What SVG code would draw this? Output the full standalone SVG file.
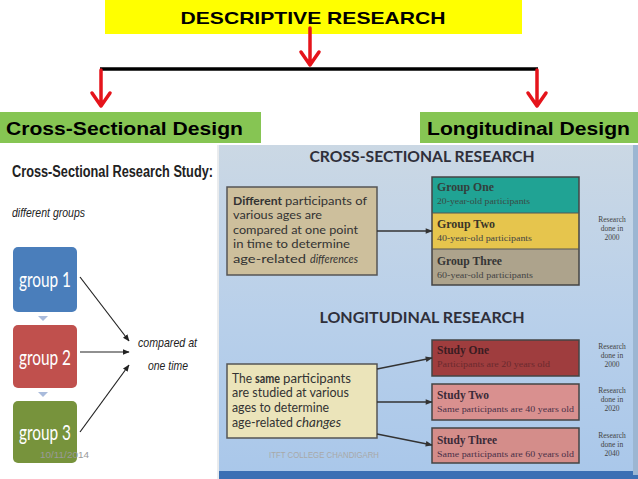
<svg xmlns="http://www.w3.org/2000/svg" width="638" height="479" viewBox="0 0 638 479">
<defs>
<linearGradient id="bg" x1="0" y1="0" x2="0" y2="1">
<stop offset="0" stop-color="#cbd8e4"/>
<stop offset="0.5" stop-color="#b9d0ea"/>
<stop offset="1" stop-color="#a9c7ea"/>
</linearGradient>
<marker id="ah" viewBox="0 0 10 10" refX="9" refY="5" markerWidth="7" markerHeight="7" orient="auto" markerUnits="userSpaceOnUse">
<path d="M0,1 L10,5 L0,9 z" fill="#222"/>
</marker>
<marker id="ah2" viewBox="0 0 10 10" refX="9" refY="5" markerWidth="9" markerHeight="7" orient="auto" markerUnits="userSpaceOnUse">
<path d="M0,1 L10,5 L0,9 z" fill="#333"/>
</marker>
</defs>
<style>
.hd{font-family:"Liberation Sans",Arial,sans-serif;font-weight:bold;fill:#000}
.red{stroke:#e5141b;stroke-width:3.5;fill:none;stroke-linecap:round;stroke-linejoin:round}
.grp{font-family:Lato,"Open Sans",sans-serif;font-size:22px;fill:#fff}
.cap{font-family:"Liberation Sans",Arial,sans-serif;font-style:italic;fill:#222}
.tt{font-family:Lato,"Open Sans",sans-serif;font-weight:bold;fill:#2f2f3a;font-size:16px}
.bx{font-family:Lato,"Open Sans",sans-serif;fill:#333;font-size:12px}
.lg{font-family:Lato,"Open Sans",sans-serif;fill:#333;font-size:12.5px}
.b{font-weight:bold}
.i{font-style:italic}
.nm{font-family:"Liberation Serif","Times New Roman",serif;font-weight:bold;font-size:12.5px}
.sb{font-family:"Liberation Serif","Times New Roman",serif;font-size:9px}
.rd{font-family:"Liberation Serif","Times New Roman",serif;font-size:7.5px;fill:#444;text-anchor:middle}
.thin{stroke:#222;stroke-width:1.2;fill:none}
.dk{stroke:#333;stroke-width:1.3;fill:none}
</style>
<rect width="638" height="479" fill="#fff"/>

<g id="descriptive">
<rect x="105" y="0" width="417" height="34" fill="#ffff00"/>
<text class="hd" x="313" y="24" font-size="17" text-anchor="middle" textLength="265" lengthAdjust="spacingAndGlyphs">DESCRIPTIVE RESEARCH</text>
</g>

<g id="connectors-top">
<line x1="100" y1="69" x2="538" y2="69" stroke="#000" stroke-width="3.5"/>
<path class="red" d="M310,28 V65 M301,52 L310,65 L319,52"/>
<path class="red" d="M101,70 V106 M92,93 L101,106 L110,93"/>
<path class="red" d="M537,70 V106 M528,93 L537,106 L546,93"/>
</g>

<g id="cross-sectional-design">
<rect x="0" y="112" width="261" height="31" fill="#86c553"/>
<text class="hd" x="6" y="135" font-size="18" textLength="237" lengthAdjust="spacingAndGlyphs">Cross-Sectional Design</text>
</g>
<g id="longitudinal-design">
<rect x="420" y="112" width="218" height="31" fill="#86c553"/>
<text class="hd" x="427" y="135" font-size="18" textLength="203" lengthAdjust="spacingAndGlyphs">Longitudinal Design</text>
</g>

<g id="left-panel">
<line x1="218" y1="145" x2="218" y2="479" stroke="#d4d8dc" stroke-width="1"/>
<text x="12" y="177" font-family="'Liberation Sans',Arial,sans-serif" font-weight="bold" font-size="16" fill="#222" textLength="201" lengthAdjust="spacingAndGlyphs">Cross-Sectional Research Study:</text>
<text class="cap" x="12" y="217" font-size="12" textLength="73" lengthAdjust="spacingAndGlyphs">different groups</text>
<g id="group1">
<rect x="13" y="247" width="64" height="65" rx="5" fill="#4a7ebb"/>
<text class="grp" x="19" y="287" textLength="52" lengthAdjust="spacingAndGlyphs">group 1</text>
</g>
<path d="M38,316 h10 l-5,5 z" fill="#a9bbdc"/>
<g id="group2">
<rect x="13" y="325" width="64" height="63" rx="5" fill="#c0504d"/>
<text class="grp" x="19" y="365" textLength="52" lengthAdjust="spacingAndGlyphs">group 2</text>
</g>
<path d="M38,392 h10 l-5,5 z" fill="#a9bbdc"/>
<g id="group3">
<rect x="13" y="401" width="64" height="62" rx="5" fill="#77933c"/>
<text class="grp" x="19" y="440" textLength="52" lengthAdjust="spacingAndGlyphs">group 3</text>
</g>
<g id="compared">
<text class="cap" x="138" y="347" font-size="13" textLength="59" lengthAdjust="spacingAndGlyphs">compared at</text>
<text class="cap" x="148" y="370" font-size="13" textLength="40" lengthAdjust="spacingAndGlyphs">one time</text>
</g>
<text x="40" y="458" font-family="'Liberation Sans',Arial,sans-serif" font-size="9" fill="#9a9a9a" textLength="49" lengthAdjust="spacingAndGlyphs">10/11/2014</text>
</g>

<g id="right-panel">
<rect x="219" y="145" width="419" height="334" fill="url(#bg)"/>
<rect x="219" y="471" width="419" height="8" fill="#3b6fb4"/>
<rect x="633" y="145" width="5" height="330" fill="#9cb6d2"/>
<text class="tt" x="422" y="162" text-anchor="middle" textLength="225" lengthAdjust="spacingAndGlyphs">CROSS-SECTIONAL RESEARCH</text>
<text class="tt" x="422" y="323" text-anchor="middle" textLength="205" lengthAdjust="spacingAndGlyphs">LONGITUDINAL RESEARCH</text>
<text x="269" y="458" font-family="'Liberation Sans',Arial,sans-serif" font-size="9" fill="#a8a8a8" textLength="110" lengthAdjust="spacingAndGlyphs">ITFT COLLEGE CHANDIGARH</text>
</g>

<g id="cs-description">
<rect x="227" y="187" width="150" height="88" fill="#cdbf9c" stroke="#555" stroke-width="1.5"/>
<text class="bx b" x="233" y="205" textLength="49" lengthAdjust="spacingAndGlyphs">Different</text>
<text class="bx" x="285" y="205" textLength="82" lengthAdjust="spacingAndGlyphs">participants of</text>
<text class="bx" x="233" y="219" textLength="89" lengthAdjust="spacingAndGlyphs">various ages are</text>
<text class="bx" x="233" y="234" textLength="125" lengthAdjust="spacingAndGlyphs">compared at one point</text>
<text class="bx" x="233" y="248" textLength="117" lengthAdjust="spacingAndGlyphs">in time to determine</text>
<text class="bx" x="233" y="263" textLength="73" lengthAdjust="spacingAndGlyphs">age-related</text>
<text class="bx i" x="310" y="263" textLength="48" lengthAdjust="spacingAndGlyphs">differences</text>
</g>

<g id="cs-groups">
<rect x="432" y="177" width="147" height="36" fill="#20a394"/>
<rect x="432" y="213" width="147" height="36" fill="#e6c54d"/>
<rect x="432" y="249" width="147" height="36" fill="#ada38c"/>
<rect x="432" y="177" width="147" height="108" fill="none" stroke="#444" stroke-width="1.5"/>
<line x1="432" y1="213" x2="579" y2="213" stroke="#555" stroke-width="1"/>
<line x1="432" y1="249" x2="579" y2="249" stroke="#555" stroke-width="1"/>
<text class="nm" x="437" y="191" fill="#33403c" textLength="57" lengthAdjust="spacingAndGlyphs">Group One</text>
<text class="sb" x="437" y="204" fill="#3a4a45" textLength="93" lengthAdjust="spacingAndGlyphs">20-year-old participants</text>
<text class="nm" x="437" y="228" fill="#3a3528" textLength="58" lengthAdjust="spacingAndGlyphs">Group Two</text>
<text class="sb" x="437" y="241" fill="#444" textLength="95" lengthAdjust="spacingAndGlyphs">40-year-old participants</text>
<text class="nm" x="437" y="265" fill="#353535" textLength="65" lengthAdjust="spacingAndGlyphs">Group Three</text>
<text class="sb" x="437" y="278" fill="#444" textLength="96" lengthAdjust="spacingAndGlyphs">60-year-old participants</text>
<text class="rd" x="612" y="222">Research</text>
<text class="rd" x="612" y="231">done in</text>
<text class="rd" x="612" y="240">2000</text>
</g>

<g id="lg-description">
<rect x="227" y="364" width="150" height="74" fill="#ebe4ba" stroke="#555" stroke-width="1.5"/>
<text class="lg" x="232" y="383" textLength="20" lengthAdjust="spacingAndGlyphs">The</text>
<text class="lg b" x="255" y="383" textLength="25" lengthAdjust="spacingAndGlyphs">same</text>
<text class="lg" x="283" y="383" textLength="68" lengthAdjust="spacingAndGlyphs">participants</text>
<text class="lg" x="232" y="397" textLength="117" lengthAdjust="spacingAndGlyphs">are studied at various</text>
<text class="lg" x="232" y="412" textLength="97" lengthAdjust="spacingAndGlyphs">ages to determine</text>
<text class="lg" x="232" y="427" textLength="61" lengthAdjust="spacingAndGlyphs">age-related</text>
<text class="lg i" x="296" y="427" textLength="45" lengthAdjust="spacingAndGlyphs">changes</text>
</g>

<g id="study-one">
<rect x="432" y="340" width="147" height="36" fill="#9f3d3e" stroke="#444" stroke-width="1.5"/>
<text class="nm" x="437" y="354" fill="#3a1c22" textLength="52" lengthAdjust="spacingAndGlyphs">Study One</text>
<text class="sb" x="437" y="367" fill="#6b2a2e" textLength="113" lengthAdjust="spacingAndGlyphs">Participants are 20 years old</text>
<text class="rd" x="612" y="349">Research</text>
<text class="rd" x="612" y="358">done in</text>
<text class="rd" x="612" y="367">2000</text>
</g>
<g id="study-two">
<rect x="432" y="384" width="147" height="36" fill="#d9908f" stroke="#444" stroke-width="1.5"/>
<text class="nm" x="437" y="399" fill="#3a2a38" textLength="52" lengthAdjust="spacingAndGlyphs">Study Two</text>
<text class="sb" x="437" y="412" fill="#4a3048" textLength="137" lengthAdjust="spacingAndGlyphs">Same participants are 40 years old</text>
<text class="rd" x="612" y="393">Research</text>
<text class="rd" x="612" y="402">done in</text>
<text class="rd" x="612" y="411">2020</text>
</g>
<g id="study-three">
<rect x="432" y="428" width="147" height="35" fill="#d48d8a" stroke="#444" stroke-width="1.5"/>
<text class="nm" x="437" y="444" fill="#3a2a38" textLength="60" lengthAdjust="spacingAndGlyphs">Study Three</text>
<text class="sb" x="437" y="457" fill="#4a3048" textLength="137" lengthAdjust="spacingAndGlyphs">Same participants are 60 years old</text>
<text class="rd" x="612" y="438">Research</text>
<text class="rd" x="612" y="447">done in</text>
<text class="rd" x="612" y="456">2040</text>
</g>

<g id="connectors">
<line class="thin" x1="80" y1="277" x2="129" y2="341" marker-end="url(#ah)"/>
<line class="thin" x1="80" y1="352" x2="129" y2="352" marker-end="url(#ah)"/>
<line class="thin" x1="80" y1="432" x2="129" y2="365" marker-end="url(#ah)"/>
<line class="dk" x1="377" y1="231" x2="432" y2="231" marker-end="url(#ah2)"/>
<line class="dk" x1="377" y1="369" x2="432" y2="358" marker-end="url(#ah2)"/>
<line class="dk" x1="377" y1="402" x2="432" y2="402" marker-end="url(#ah2)"/>
<line class="dk" x1="377" y1="434" x2="432" y2="445" marker-end="url(#ah2)"/>
</g>
</svg>
